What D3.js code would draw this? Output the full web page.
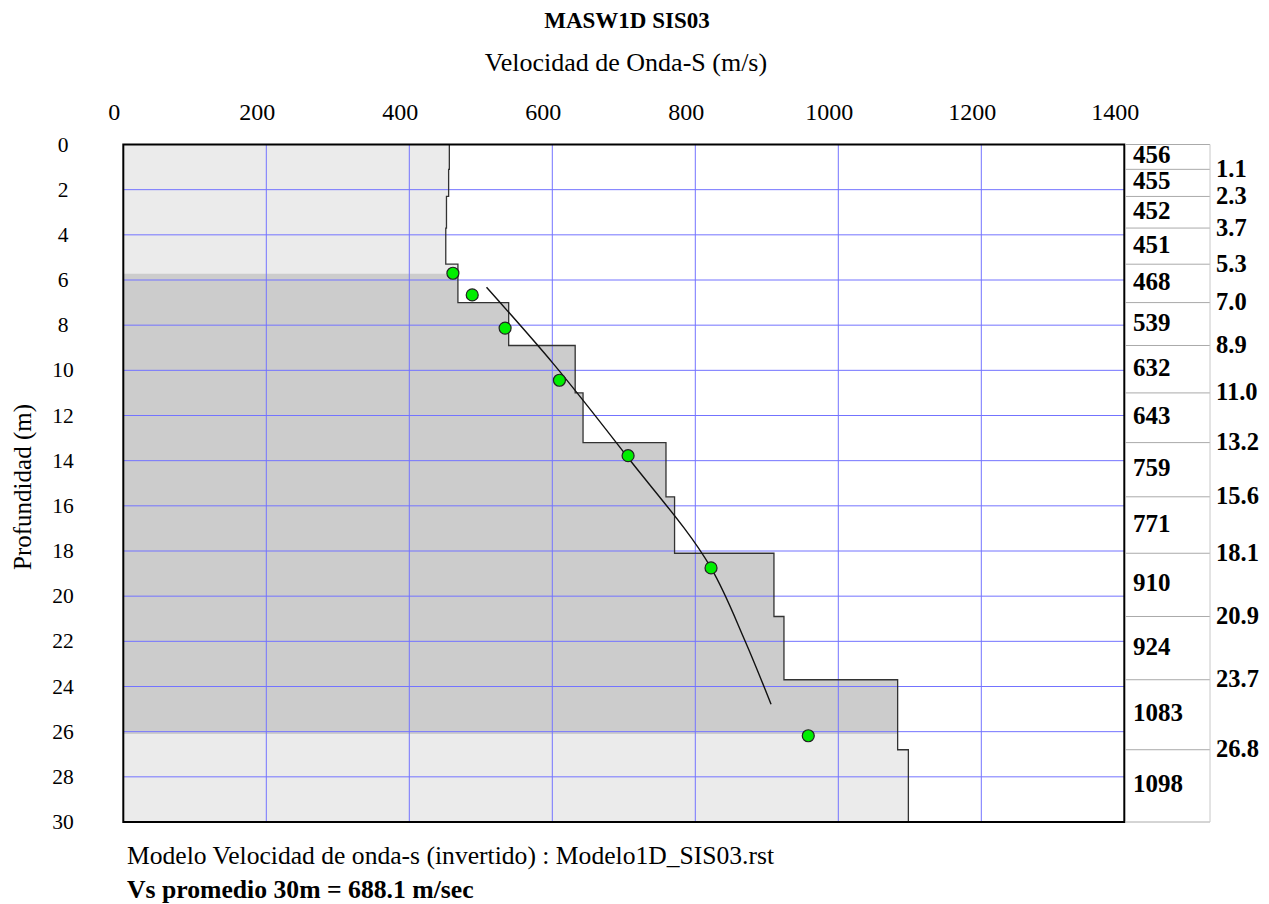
<!DOCTYPE html>
<html><head><meta charset="utf-8">
<script src="https://cdn.jsdelivr.net/npm/d3@7"></script>
<style>body{margin:0;background:#fff}</style>
</head><body>
<svg id="c" width="1269" height="904"></svg>
<script>
// ---- data ----
const layerTops = [0, 1.1, 2.3, 3.7, 5.3, 7.0, 8.9, 11.0, 13.2, 15.6, 18.1, 20.9, 23.7, 26.8];
const layerVs   = [456, 455, 452, 451, 468, 539, 632, 643, 759, 771, 910, 924, 1083, 1098];
const maxDepth = 30;
const pointVs     = [461, 488, 534, 610, 706, 822, 958];
const pointDepths = [5.70, 6.66, 8.13, 10.44, 13.78, 18.75, 26.18];
const curveVs     = [508, 601, 703, 822, 869, 906];
const curveDepths = [6.32, 9.69, 13.75, 18.75, 21.94, 24.79];
const bandDepths = [5.72, 26.1];
const xTicks = [0, 200, 400, 600, 800, 1000, 1200, 1400];
const yTicks = [0, 2, 4, 6, 8, 10, 12, 14, 16, 18, 20, 22, 24, 26, 28, 30];
const xGrid = [200, 400, 600, 800, 1000, 1200];
const yGrid = [2, 4, 6, 8, 10, 12, 14, 16, 18, 20, 22, 24, 26, 28];

const svg = d3.select("#c");
const font = "'Liberation Serif','Times New Roman',serif";
const x = d3.scaleLinear().domain([0, 1400]).range([123.3, 1124.3]);
const y = d3.scaleLinear().domain([0, maxDepth]).range([144.5, 822]);

// step profile points
const prof = [];
layerTops.forEach((t, i) => {
  const b = i < layerTops.length - 1 ? layerTops[i + 1] : maxDepth;
  prof.push({v: layerVs[i], d: t});
  prof.push({v: layerVs[i], d: b});
});

const area = d3.area().y(p => y(p.d)).x0(x(0)).x1(p => x(p.v));
svg.append("path").attr("d", area(prof)).attr("fill", "#ebebeb");
svg.append("clipPath").attr("id", "band").append("rect")
  .attr("x", x(0)).attr("width", x(1400) - x(0))
  .attr("y", y(bandDepths[0])).attr("height", y(bandDepths[1]) - y(bandDepths[0]));
svg.append("path").attr("d", area(prof)).attr("fill", "#cccccc").attr("clip-path", "url(#band)");

// grid
svg.append("g").selectAll("line").data(xGrid).join("line")
  .attr("x1", d => x(d)).attr("x2", d => x(d)).attr("y1", y(0)).attr("y2", y(maxDepth))
  .attr("stroke", "#7373ff").attr("stroke-width", 1);
svg.append("g").selectAll("line").data(yGrid).join("line")
  .attr("y1", d => y(d)).attr("y2", d => y(d)).attr("x1", x(0)).attr("x2", x(1400))
  .attr("stroke", "#7373ff").attr("stroke-width", 1);

// step outline
svg.append("path").attr("d", d3.line().x(p => x(p.v)).y(p => y(p.d))(prof))
  .attr("fill", "none").attr("stroke", "#333").attr("stroke-width", 1.3);

// fitted curve
const cpts = curveVs.map((v, i) => ({v, d: curveDepths[i]}));
svg.append("path").attr("d", d3.line().x(p => x(p.v)).y(p => y(p.d)).curve(d3.curveMonotoneY)(cpts))
  .attr("fill", "none").attr("stroke", "#111").attr("stroke-width", 1.4);

// points
svg.append("g").selectAll("circle").data(pointVs.map((v, i) => ({v, d: pointDepths[i]}))).join("circle")
  .attr("cx", p => x(p.v)).attr("cy", p => y(p.d)).attr("r", 6)
  .attr("fill", "#00ee00").attr("stroke", "#222").attr("stroke-width", 1.2);

// border
svg.append("rect").attr("x", x(0)).attr("y", y(0)).attr("width", x(1400) - x(0)).attr("height", y(maxDepth) - y(0))
  .attr("fill", "none").attr("stroke", "#000").attr("stroke-width", 2);

// right table
const tx0 = x(1400) + 1, tx1 = 1210;
const tg = svg.append("g");
tg.selectAll("line.b").data(layerTops.slice(1).concat([0, maxDepth])).join("line")
  .attr("x1", tx0).attr("x2", tx1).attr("y1", d => y(d)).attr("y2", d => y(d))
  .attr("stroke", "#aaa").attr("stroke-width", 1);
tg.append("line").attr("x1", tx1).attr("x2", tx1).attr("y1", y(0)).attr("y2", y(maxDepth))
  .attr("stroke", "#c8c8c8").attr("stroke-width", 1);
tg.selectAll("text.v").data(layerVs).join("text")
  .attr("x", 1133)
  .attr("y", (v, i) => y((layerTops[i] + (i < layerTops.length - 1 ? layerTops[i + 1] : maxDepth)) / 2) - 2)
  .attr("dominant-baseline", "central")
  .attr("font-family", font).attr("font-weight", "bold").attr("font-size", 25)
  .text(v => v);
tg.selectAll("text.d").data(layerTops.slice(1)).join("text")
  .attr("x", 1216).attr("y", d => y(d) - 1)
  .attr("dominant-baseline", "central")
  .attr("font-family", font).attr("font-weight", "bold").attr("font-size", 24.5)
  .text(d => d.toFixed(1));

// axes labels
svg.append("g").selectAll("text").data(xTicks).join("text")
  .attr("x", d => x(d) - 9).attr("y", 112).attr("text-anchor", "middle").attr("dominant-baseline", "central")
  .attr("font-family", font).attr("font-size", 24).text(d => d);
svg.append("g").selectAll("text").data(yTicks).join("text")
  .attr("x", 63).attr("y", d => y(d)).attr("text-anchor", "middle").attr("dominant-baseline", "central")
  .attr("font-family", font).attr("font-size", 21.5).text(d => d);

svg.append("text").attr("transform", "translate(22,487) rotate(-90)")
  .attr("text-anchor", "middle").attr("dominant-baseline", "central")
  .attr("font-family", font).attr("font-size", 25).text("Profundidad (m)");

svg.append("text").attr("x", 627).attr("y", 20).attr("text-anchor", "middle").attr("dominant-baseline", "central")
  .attr("font-family", font).attr("font-weight", "bold").attr("font-size", 23).text("MASW1D SIS03");
svg.append("text").attr("x", 626).attr("y", 62).attr("text-anchor", "middle").attr("dominant-baseline", "central")
  .attr("font-family", font).attr("font-size", 26).text("Velocidad de Onda-S (m/s)");

svg.append("text").attr("x", 127).attr("y", 855).attr("dominant-baseline", "central")
  .attr("font-family", font).attr("font-size", 25.6).text("Modelo Velocidad de onda-s (invertido) : Modelo1D_SIS03.rst");
svg.append("text").attr("x", 127).attr("y", 889).attr("dominant-baseline", "central")
  .attr("font-family", font).attr("font-weight", "bold").attr("font-size", 25.7).text("Vs promedio 30m = 688.1 m/sec");
</script>
</body></html>
